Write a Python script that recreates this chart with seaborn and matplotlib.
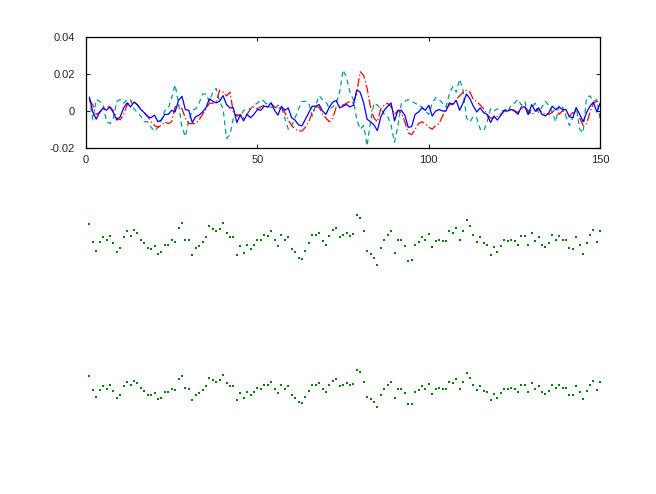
import numpy as np
import seaborn as sns
import matplotlib.pyplot as plt
from matplotlib.ticker import FuncFormatter

# sample index (1..150)
idx = list(range(1, 151))

# blue series (also drawn as dots in the two lower panels)
blue = [
    0.0073, -0.0007, -0.0046, -0.0007, 0.0015, 0.0002, 0.0020, -0.0011, -0.0051, -0.0033,
    0.0015, 0.0042, 0.0020, 0.0046, 0.0033, 0.0006, -0.0011, -0.0033, -0.0038, -0.0024,
    -0.0060, -0.0051, -0.0020, -0.0020, 0.0002, -0.0007, 0.0055, 0.0077, 0.0006, 0.0002,
    -0.0064, -0.0033, -0.0024, -0.0007, 0.0015, 0.0064, 0.0051, 0.0042, 0.0051, 0.0081,
    0.0033, 0.0015, 0.0015, -0.0064, -0.0024, -0.0055, -0.0020, -0.0038, -0.0020, 0.0006,
    0.0002, 0.0024, 0.0020, 0.0042, 0.0002, -0.0024, 0.0024, 0.0002, 0.0015, -0.0038,
    -0.0051, -0.0077, -0.0082, -0.0046, -0.0011, 0.0024, 0.0024, 0.0033, -0.0002, -0.0020,
    0.0020, 0.0046, 0.0055, 0.0015, 0.0024, 0.0033, 0.0020, 0.0029, 0.0112, 0.0099,
    0.0042, -0.0046, -0.0060, -0.0077, -0.0108, -0.0033, 0.0002, 0.0024, 0.0042, -0.0055,
    0.0002, 0.0002, -0.0024, -0.0090, -0.0086, -0.0020, -0.0007, 0.0015, 0.0002, 0.0029,
    -0.0029, -0.0002, 0.0006, -0.0002, -0.0002, 0.0042, 0.0033, 0.0055, 0.0002, 0.0042,
    0.0090, 0.0064, 0.0024, -0.0007, 0.0015, -0.0011, -0.0020, -0.0064, -0.0029, -0.0051,
    -0.0024, 0.0002, -0.0002, 0.0006, -0.0002, -0.0020, 0.0020, 0.0020, -0.0020, 0.0033,
    -0.0002, 0.0015, -0.0020, -0.0029, -0.0011, 0.0024, 0.0006, 0.0020, 0.0006, 0.0006,
    -0.0033, -0.0038, 0.0015, -0.0020, -0.0060, -0.0011, 0.0024, 0.0046, -0.0007, 0.0042,
]

# red series (dash-dot)
red = [
    0.006, 0.003, -0.002, -0.001, 0.001, 0.002, 0.002, 0.000, -0.004, -0.005,
    -0.002, 0.003, 0.005, 0.005, 0.003, 0.001, -0.001, -0.003, -0.006, -0.008,
    -0.009, -0.008, -0.006, -0.007, -0.006, 0.002, 0.003, 0.001, -0.004, -0.007,
    -0.007, -0.007, -0.005, -0.002, 0.001, 0.004, 0.004, 0.005, 0.011, 0.010,
    0.008, 0.010, -0.001, -0.003, -0.002, -0.004, -0.002, 0.001, 0.002, 0.001,
    0.002, 0.003, 0.004, 0.004, 0.002, 0.001, 0.002, -0.001, -0.005, -0.008,
    -0.010, -0.011, -0.011, -0.009, -0.006, -0.001, 0.002, 0.002, -0.002, -0.004,
    -0.006, -0.004, 0.002, 0.003, 0.003, 0.004, 0.005, 0.004, 0.010, 0.021,
    0.019, 0.012, 0.002, -0.004, -0.006, 0.001, 0.003, 0.004, 0.002, -0.002,
    0.000, -0.001, -0.006, -0.012, -0.013, -0.010, -0.007, -0.006, -0.007, -0.009,
    -0.010, -0.008, -0.007, -0.003, 0.001, 0.003, 0.004, 0.006, 0.008, 0.010,
    0.011, 0.010, 0.006, 0.005, 0.003, 0.001, -0.002, -0.004, -0.004, -0.003,
    -0.002, 0.000, 0.001, 0.001, 0.000, -0.001, 0.001, 0.002, 0.000, -0.002,
    -0.001, 0.001, -0.001, -0.002, -0.002, -0.001, 0.001, -0.002, 0.000, -0.002,
    -0.003, -0.001, -0.002, -0.004, -0.008, -0.007, -0.001, 0.004, 0.005, 0.004,
]

# teal series (dashed)
teal = [
    0.007, -0.005, 0.006, 0.005, 0.003, -0.006, -0.007, -0.004, 0.005, 0.006,
    0.004, 0.006, 0.006, 0.001, -0.001, -0.003, -0.006, -0.006, -0.009, -0.011,
    -0.009, -0.005, 0.000, 0.001, 0.007, 0.014, 0.004, -0.009, -0.014, -0.005,
    0.000, 0.001, 0.004, 0.009, 0.009, 0.005, 0.010, 0.012, 0.005, 0.001,
    -0.015, -0.013, -0.004, -0.002, -0.003, 0.000, 0.001, 0.001, 0.003, 0.004,
    0.006, 0.005, 0.002, 0.002, 0.001, 0.003, 0.002, -0.004, -0.010, -0.008,
    -0.004, 0.001, 0.005, 0.005, 0.004, -0.003, 0.003, 0.008, 0.006, 0.005,
    0.001, 0.002, 0.004, 0.010, 0.022, 0.018, 0.010, 0.006, -0.005, -0.010,
    -0.008, -0.019, -0.006, 0.004, 0.003, 0.001, -0.002, -0.003, -0.008, -0.017,
    -0.008, 0.004, 0.005, 0.006, 0.005, 0.004, 0.003, 0.002, 0.000, -0.002,
    0.004, 0.007, 0.006, 0.004, 0.002, 0.009, 0.013, 0.010, 0.017, 0.011,
    -0.004, -0.006, -0.003, -0.004, -0.010, -0.011, -0.006, 0.001, 0.000, 0.001,
    0.000, 0.000, -0.001, 0.003, 0.004, 0.006, 0.003, 0.005, -0.003, 0.001,
    0.004, -0.001, 0.002, 0.005, 0.003, -0.001, -0.006, 0.003, 0.002, -0.003,
    -0.008, -0.004, 0.002, -0.010, -0.012, 0.007, 0.008, 0.005, 0.006, -0.005,
]

xticks = [0, 50, 100, 150]
yticks = [-0.02, 0, 0.02, 0.04]

sns.set_style('white')
plt.rcParams['font.family'] = ['Liberation Sans', 'DejaVu Sans']

fig = plt.figure(figsize=(6.56, 4.94), dpi=100)

# top panel: three lines
ax1 = fig.add_axes([0.131, 0.701, 0.784, 0.225])
sns.lineplot(x=idx, y=teal, ax=ax1, color='#00a08a', linewidth=0.9,
             linestyle=(0, (4, 3)))
sns.lineplot(x=idx, y=red, ax=ax1, color='#ff0000', linewidth=0.9,
             linestyle=(0, (7, 2, 1, 2)))
sns.lineplot(x=idx, y=blue, ax=ax1, color='#0000ff', linewidth=0.9)
ax1.set_xlim(0, 150)
ax1.set_ylim(-0.02, 0.04)
ax1.set_xticks(xticks)
ax1.set_yticks(yticks)
ax1.yaxis.set_major_formatter(FuncFormatter(lambda v, p: '%g' % round(v, 4)))
ax1.tick_params(direction='in', length=3, width=0.8, labelsize=8,
                top=True, right=True, bottom=True, left=True)
ax1.tick_params(axis='y', pad=8)
ax1.tick_params(axis='x', pad=5)
for s in ax1.spines.values():
    s.set_linewidth(0.9)
    s.set_color('black')

# lower panels: dots only, axes hidden
ax2 = fig.add_axes([0.131, 0.4096, 0.784, 0.2157])
sns.scatterplot(x=idx, y=blue, ax=ax2, color='#008000', marker='s', s=1.3,
                linewidth=0)
ax2.set_xlim(0, 150)
ax2.set_ylim(-0.0224, 0.0246)
ax2.axis('off')

ax3 = fig.add_axes([0.131, 0.11, 0.784, 0.2157])
sns.scatterplot(x=idx, y=blue, ax=ax3, color='#008000', marker='s', s=1.3,
                linewidth=0)
ax3.set_xlim(0, 150)
ax3.set_ylim(-0.0297, 0.0326)
ax3.axis('off')

fig.savefig('out.png', dpi=100)
